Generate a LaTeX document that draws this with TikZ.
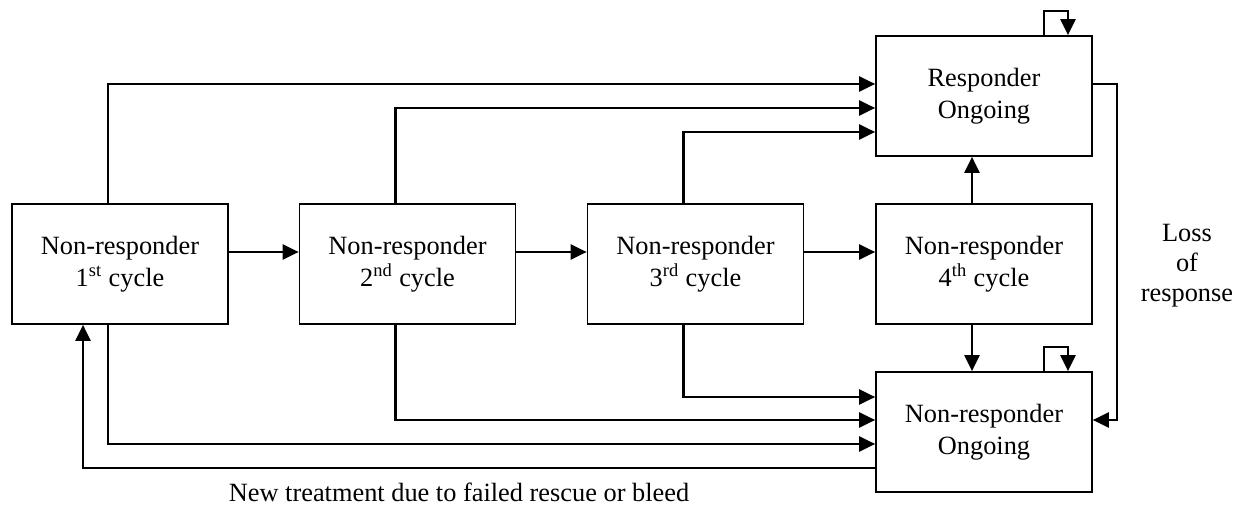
\documentclass[tikz,border=0pt]{standalone}
\usepackage{fontspec}
\setmainfont{Liberation Serif}
\usetikzlibrary{arrows.meta}

\begin{document}
\begin{tikzpicture}[x=0.02cm, y=-0.02cm,
  state/.style={draw, line width=1pt, minimum width=4.32cm, minimum height=2.4cm,
    inner sep=0pt, align=center, font=\fontsize{15}{18}\selectfont},
  flow/.style={line width=1.3pt, -{Triangle[length=0.32cm, width=0.3cm]}},
  note/.style={align=center, inner sep=0pt, font=\fontsize{15}{17}\selectfont}]

 % frame
 \useasboundingbox (0,0) rectangle (1248,509);

 % states
 \node[state] (n1) at (120,264)   {Non-responder\\1\textsuperscript{st} cycle};
 \node[state] (n2) at (407.5,264) {Non-responder\\2\textsuperscript{nd} cycle};
 \node[state] (n3) at (695.5,264) {Non-responder\\3\textsuperscript{rd} cycle};
 \node[state] (n4) at (984,264)   {Non-responder\\4\textsuperscript{th} cycle};
 \node[state] (ro) at (984,96)    {Responder\\Ongoing};
 \node[state] (no) at (984,432)   {Non-responder\\Ongoing};

 % next cycle
 \draw[flow] ([yshift=0.24cm]n1.east) -- ([yshift=0.24cm]n2.west);
 \draw[flow] ([yshift=0.24cm]n2.east) -- ([yshift=0.24cm]n3.west);
 \draw[flow] ([yshift=0.24cm]n3.east) -- ([yshift=0.24cm]n4.west);

 % to responder
 \draw[flow] ([xshift=-0.24cm]n1.north) |- ([yshift=0.24cm]ro.west);
 \draw[flow] ([xshift=-0.24cm]n2.north) |- ([yshift=-0.24cm]ro.west);
 \draw[flow] ([xshift=-0.24cm]n3.north) |- ([yshift=-0.72cm]ro.west);
 \draw[flow] ([xshift=-0.24cm]n4.north) -- ([xshift=-0.24cm]ro.south);

 % to non-responder
 \draw[flow] ([xshift=-0.24cm]n3.south) |- ([yshift=0.7cm]no.west);
 \draw[flow] ([xshift=-0.24cm]n2.south) |- ([yshift=0.24cm]no.west);
 \draw[flow] ([xshift=-0.24cm]n1.south) |- ([yshift=-0.24cm]no.west);
 \draw[flow] ([xshift=-0.24cm]n4.south) -- ([xshift=-0.24cm]no.north);

 % stay
 \draw[flow] ([xshift=1.2cm]ro.north) -- ++(0,-24) -| ([xshift=1.68cm]ro.north);
 \draw[flow] ([xshift=1.2cm]no.north) -- ++(0,-24) -| ([xshift=1.68cm]no.north);

 % loss of response
 \draw[flow] ([yshift=0.24cm]ro.east) -- ++(24,0) |- ([yshift=0.24cm]no.east);
 \node[note] (loss) at (1187,266) {Loss\\of\\response};

 % new treatment
 \draw[flow] ([yshift=-0.72cm]no.west) -| ([xshift=-0.74cm]n1.south);
 \node[note, anchor=base] (newtx) at (459,502) {New treatment due to failed rescue or bleed};
\end{tikzpicture}
\end{document}
